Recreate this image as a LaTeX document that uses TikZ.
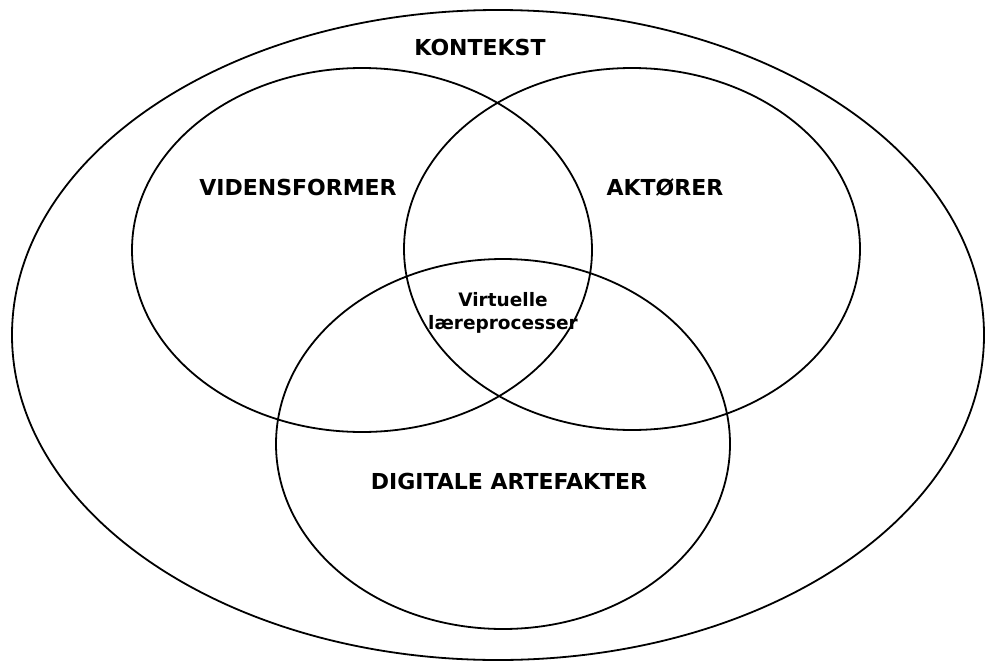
\documentclass[tikz,border=0pt]{standalone}
\usepackage{fontspec}
\setmainfont{DejaVu Sans}
\usetikzlibrary{shapes.geometric}
\tikzset{
  ring/.style={draw=black, ellipse, line width=1.8pt, inner sep=0pt, outer sep=0pt},
  setlabel/.style={font=\fontsize{22}{26}\selectfont\bfseries, text=black, inner sep=0pt, anchor=base},
  corelabel/.style={font=\fontsize{18.5}{23}\selectfont\bfseries, text=black, align=center, inner sep=0pt}
}
\begin{document}
\begin{tikzpicture}[x=1pt,y=-1pt]
  \useasboundingbox (0,0) rectangle (985,664);

  \node[ring, minimum width=972pt, minimum height=650pt] (context) at (498,335) {};
  \node[ring, minimum width=460pt, minimum height=364pt] (knowledge) at (362,250) {};
  \node[ring, minimum width=456pt, minimum height=362pt] (actors) at (632,249) {};
  \node[ring, minimum width=454pt, minimum height=370pt] (artefacts) at (503,444) {};

  \node[setlabel] (contextlbl) at (480,55) {KONTEKST};
  \node[setlabel] (knowledgelbl) at (298,195) {VIDENSFORMER};
  \node[setlabel] (actorslbl) at (665,195) {AKTØRER};
  \node[setlabel] (artefactslbl) at (509,489) {DIGITALE ARTEFAKTER};
  \node[corelabel] (corelbl) at (503,313) {Virtuelle\\læreprocesser};
\end{tikzpicture}
\end{document}
